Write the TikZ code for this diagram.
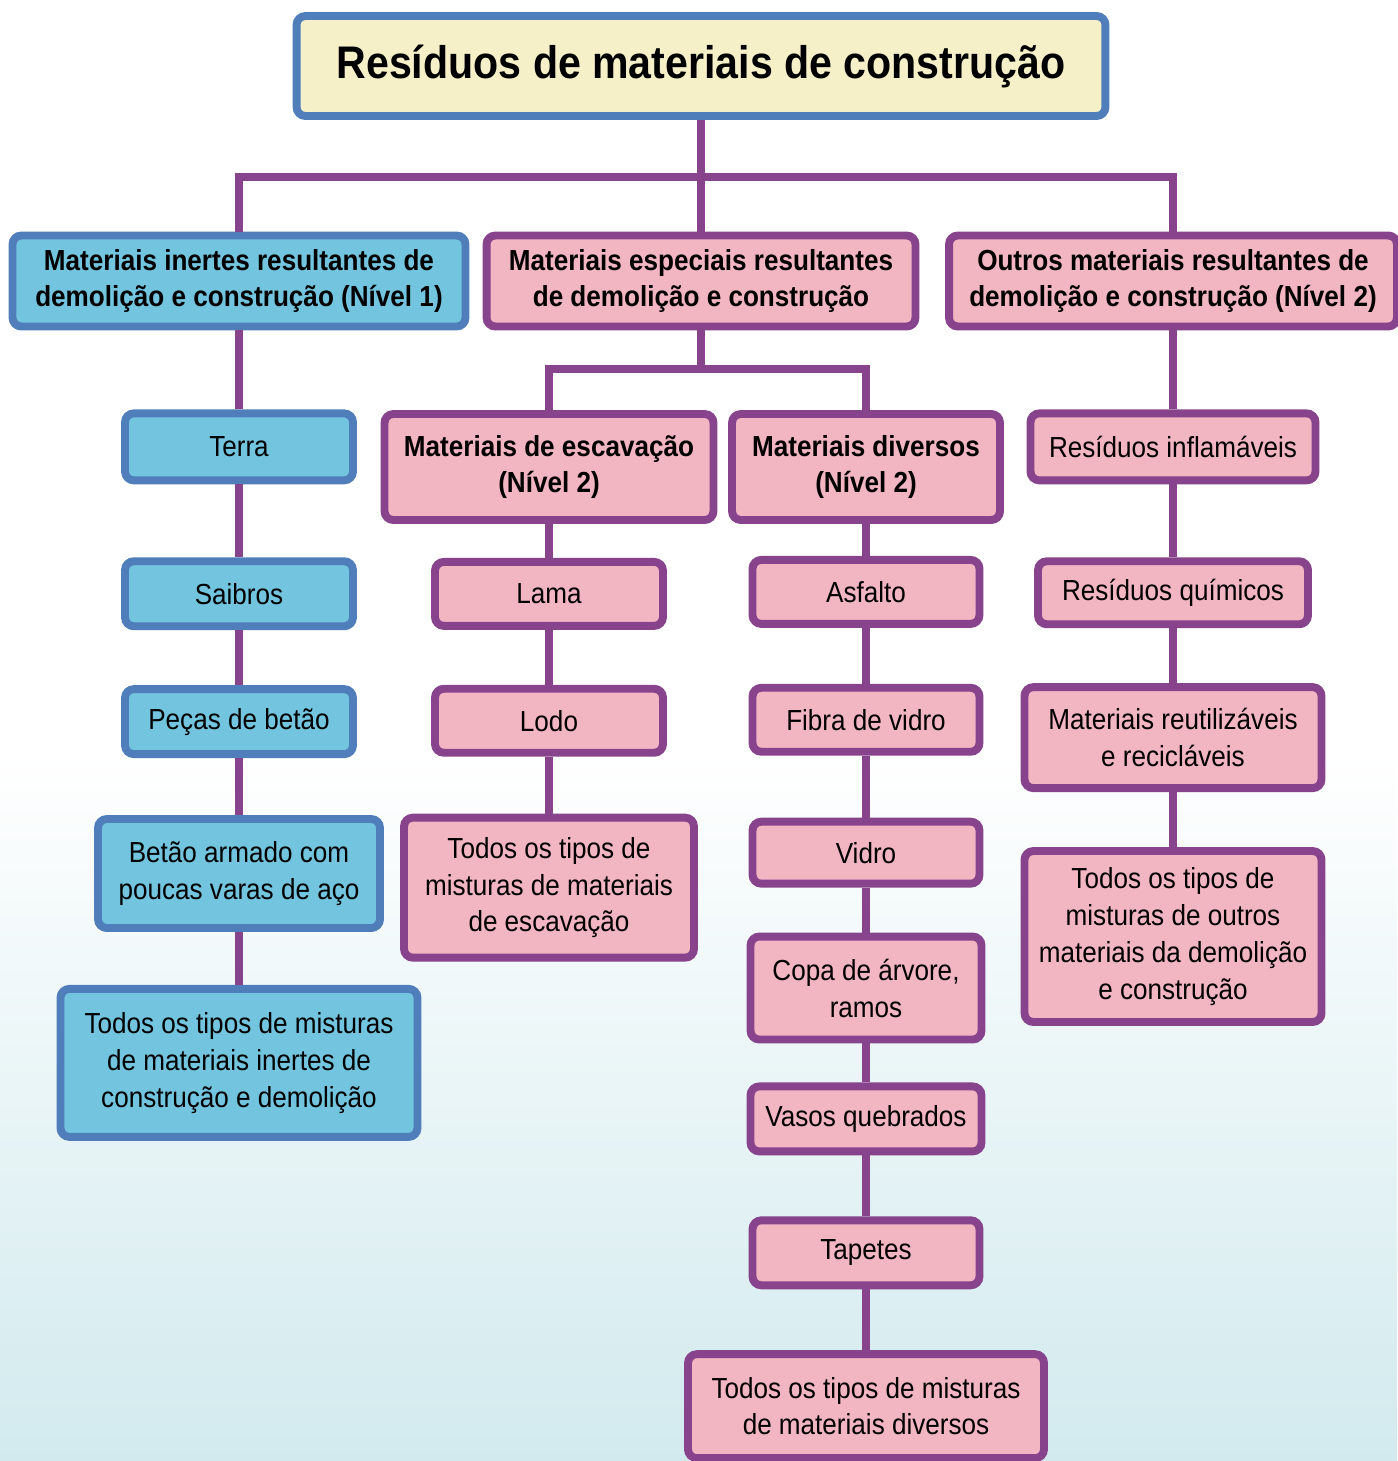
\documentclass[tikz,border=0pt]{standalone}
\usepackage{fontspec}
\setmainfont{Liberation Sans}[FakeStretch=0.9]
\usepackage{xcolor}
\definecolor{cBlueLine}{HTML}{4F7EBB}
\definecolor{cBlueFill}{HTML}{72C4DF}
\definecolor{cPurple}{HTML}{88438D}
\definecolor{cPink}{HTML}{F2B5C2}
\definecolor{cCream}{HTML}{F5F0C8}
\definecolor{cBgLow}{HTML}{D2EAEE}
\usepackage{tikz}
\usetikzlibrary{positioning}
\tikzset{
  node-base/.style={line width=4.5pt,rounded corners=5pt,align=center,
    inner sep=1pt,font=\fontsize{16.5}{21}\selectfont},
  node-blue/.style={node-base,draw=cBlueLine,fill=cBlueFill},
  node-pink/.style={node-base,draw=cPurple,fill=cPink},
  node-head/.style={font=\fontsize{16.5}{21}\selectfont\bfseries},
  node-title/.style={node-base,draw=cBlueLine,fill=cCream,
    font=\fontsize{26}{30}\selectfont\bfseries},
  box-size/.style 2 args={minimum width=#1cm+0.8mm,minimum height=#2cm},
  link/.style={draw=cPurple,line width=4.5pt},
}

\begin{document}
\begin{tikzpicture}[x=0.02cm,y=-0.02cm]
  \useasboundingbox (0,0) rectangle (1397,1461);
  \fill[white] (0,0) rectangle (1397,750);
  \shade[top color=white,bottom color=cBgLow] (0,750) rectangle (1397,1461);

  \node[node-title,box-size={16.1}{2.0}] (title) at (701,66) {Resíduos de materiais de construção};

  % nível 1
  \node[node-blue,node-head,box-size={8.98}{1.82}] (inerte) at (239,281) {Materiais inertes resultantes de\\demolição e construção (Nível 1)};
  \node[node-pink,node-head,box-size={8.5}{1.82}] (especial) at (701,281) {Materiais especiais resultantes\\de demolição e construção};
  \node[node-pink,node-head,box-size={8.88}{1.82}] (outros) at (1173,281) {Outros materiais resultantes de\\demolição e construção (Nível 2)};

  % inertes
  \node[node-blue,box-size={4.48}{1.34},below=15.8mm of inerte] (terra) {Terra};
  \node[node-blue,box-size={4.48}{1.3},below=14.6mm of terra] (saibros) {Saibros};
  \node[node-blue,box-size={4.48}{1.3},below=11mm of saibros] (pecas) {Peças de betão};
  \node[node-blue,box-size={5.56}{2.18},below=11.4mm of pecas] (betao) {Betão armado com\\poucas varas de aço};
  \node[node-blue,box-size={7.06}{2.96},below=10.6mm of betao] (mistInerte) {Todos os tipos de misturas\\de materiais inertes de\\construção e demolição};

  % especiais
  \node[node-pink,node-head,box-size={6.5}{2.12}] (escav) at (549,467) {Materiais de escavação\\(Nível 2)};
  \node[node-pink,node-head,box-size={5.28}{2.12}] (divers) at (866,467) {Materiais diversos\\(Nível 2)};
  \node[node-pink,box-size={4.48}{1.28},below=6.8mm of escav] (lama) {Lama};
  \node[node-pink,box-size={4.48}{1.28},below=11mm of lama] (lodo) {Lodo};
  \node[node-pink,box-size={5.72}{2.8},below=11.4mm of lodo] (mistEscav) {Todos os tipos de\\misturas de materiais\\de escavação};
  \node[node-pink,box-size={4.46}{1.28},below=6.4mm of divers] (asfalto) {Asfalto};
  \node[node-pink,box-size={4.46}{1.28},below=11.2mm of asfalto] (fibra) {Fibra de vidro};
  \node[node-pink,box-size={4.46}{1.24},below=12.4mm of fibra] (vidro) {Vidro};
  \node[node-pink,box-size={4.54}{2.06},below=9mm of vidro] (copa) {Copa de árvore,\\ramos};
  \node[node-pink,box-size={4.54}{1.3},below=7.8mm of copa] (vasos) {Vasos quebrados};
  \node[node-pink,box-size={4.46}{1.3},below=12.2mm of vasos] (tapetes) {Tapetes};
  \node[node-pink,box-size={7.04}{2.08},below=12.2mm of tapetes] (mistDivers) {Todos os tipos de misturas\\de materiais diversos};

  % outros
  \node[node-pink,box-size={5.62}{1.34},below=15.8mm of outros] (inflam) {Resíduos inflamáveis};
  \node[node-pink,box-size={5.32}{1.26},below=14.6mm of inflam] (quim) {Resíduos químicos};
  \node[node-pink,box-size={5.86}{2.02},below=11mm of quim] (reut) {Materiais reutilizáveis\\e recicláveis};
  \node[node-pink,box-size={5.86}{3.42},below=11mm of reut] (mistOutros) {Todos os tipos de\\misturas de outros\\materiais da demolição\\e construção};

  % ligações
  \coordinate (bus1) at (701,177);
  \coordinate (bus2) at (701,369);
  \draw[link] (title) -- (especial);
  \draw[link] (inerte) |- (bus1) -| (outros);
  \draw[link] (especial) -- (bus2);
  \draw[link] (escav) |- (bus2) -| (divers);
  \draw[link] (inerte) -- (terra) (terra) -- (saibros) (saibros) -- (pecas)
    (pecas) -- (betao) (betao) -- (mistInerte);
  \draw[link] (escav) -- (lama) (lama) -- (lodo) (lodo) -- (mistEscav);
  \draw[link] (divers) -- (asfalto) (asfalto) -- (fibra) (fibra) -- (vidro)
    (vidro) -- (copa) (copa) -- (vasos) (vasos) -- (tapetes) (tapetes) -- (mistDivers);
  \draw[link] (outros) -- (inflam) (inflam) -- (quim) (quim) -- (reut)
    (reut) -- (mistOutros);
\end{tikzpicture}
\end{document}
